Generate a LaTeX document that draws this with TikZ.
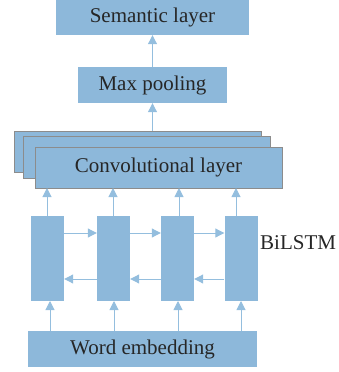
\documentclass[tikz,border=0pt]{standalone}
\usepackage{fontspec}
\setmainfont{Liberation Serif}
\usetikzlibrary{arrows.meta}
\definecolor{boxblue}{RGB}{141,184,218}
\definecolor{arrowblue}{RGB}{148,190,222}
\definecolor{edgegray}{RGB}{140,140,140}
\begin{document}
\begin{tikzpicture}[x=1pt,y=-1pt,
  blk/.style={fill=boxblue,draw=none,inner sep=0pt,font=\fontsize{21}{24}\selectfont,text=black!85},
  convbox/.style={fill=boxblue,draw=edgegray,line width=0.9pt,inner sep=0pt,font=\fontsize{21}{24}\selectfont,text=black!85},
  conn/.style={draw=arrowblue,line width=1pt,-{Triangle[width=9pt,length=9pt]}}]
\useasboundingbox (0,0) rectangle (338,372);
% output and pooling layers
\node[blk,minimum width=193pt,minimum height=35pt] (sem) at (152.5,17.5) {Semantic layer};
\node[blk,minimum width=149pt,minimum height=36pt] (pool) at (152.5,85) {Max pooling};
% stacked convolution feature maps
\node[convbox,minimum width=247pt,minimum height=41pt] (c3) at (137.5,151.5) {};
\node[convbox,minimum width=247pt,minimum height=42pt] (c2) at (146.5,157) {};
\node[convbox,minimum width=247pt,minimum height=41pt] (c1) at (158.5,167.5) {Convolutional layer};
% BiLSTM cells
\foreach \i/\x in {1/47.5,2/113.5,3/177.5,4/241}
  \node[blk,minimum width=33pt,minimum height=85pt] (l\i) at (\x,258.5) {};
\node[anchor=west,font=\fontsize{21}{24}\selectfont,text=black!85,inner sep=0pt] (bl) at (260,243) {BiLSTM};
% input layer
\node[blk,minimum width=229pt,minimum height=36pt] (emb) at (142.5,349) {Word embedding};
% vertical flow
\draw[conn] (pool.north) -- (sem.south);
\draw[conn] (c3.north -| pool.south) -- (pool.south);
\foreach \i/\xt/\xb in {1/47/50,2/113/114,3/179/178,4/236/241}{
  \draw[conn] (\xt,216) -- (\xt,188);
  \draw[conn] (\xb,331) -- (\xb,301);
}
% recurrent links
\foreach \a/\b in {1/2,2/3,3/4}{
  \draw[conn] (l\a.east |- 0,233) -- (l\b.west |- 0,233);
  \draw[conn] (l\b.west |- 0,279) -- (l\a.east |- 0,279);
}
\end{tikzpicture}
\end{document}
